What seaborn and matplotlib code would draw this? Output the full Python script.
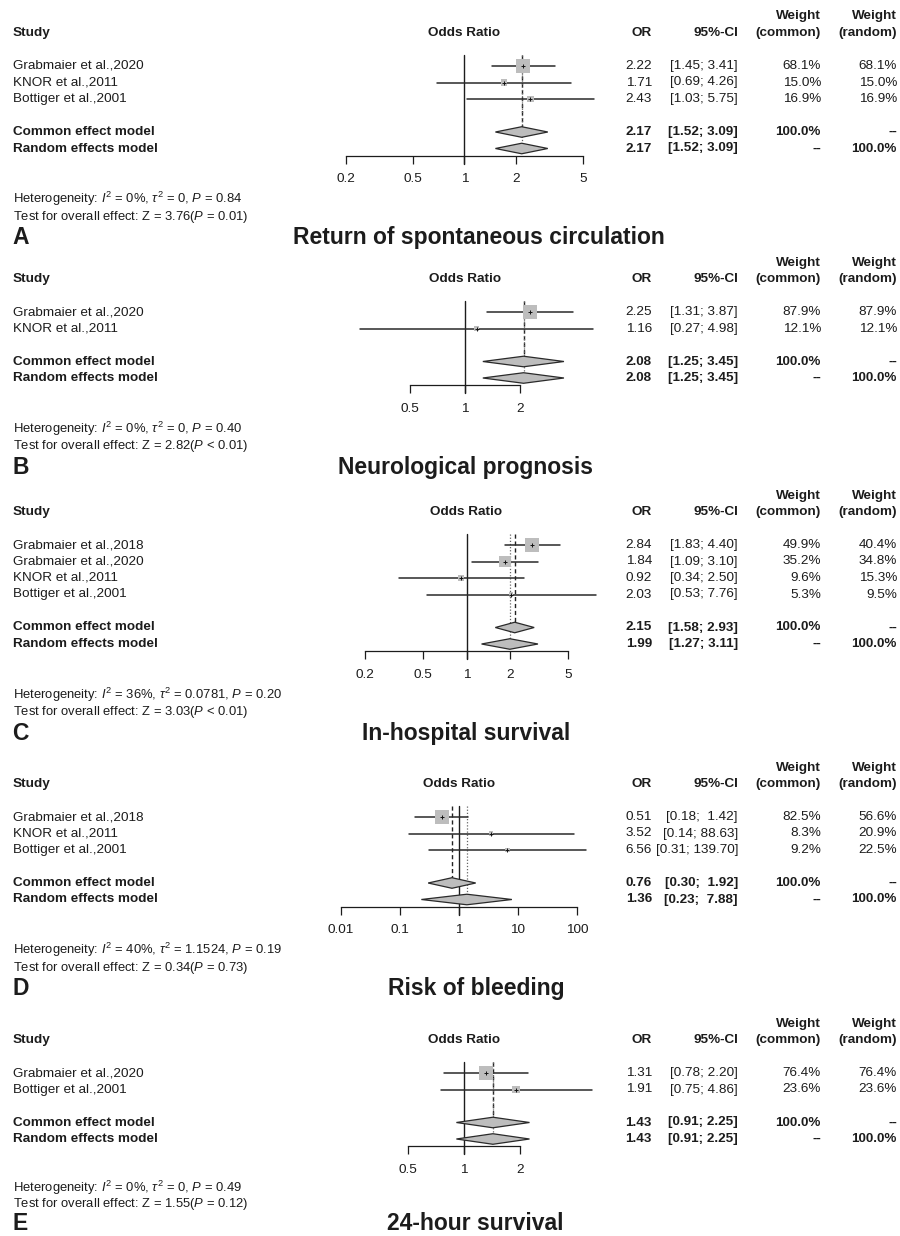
import numpy as np
import matplotlib
matplotlib.use("Agg")
import matplotlib.pyplot as plt
import matplotlib.transforms as mtransforms
from matplotlib.ticker import NullLocator
import seaborn as sns

# ---------------- data ----------------
# A: return of spontaneous circulation
roc_studies = ["Grabmaier et al.,2020", "KNOR et al.,2011", "Bottiger et al.,2001"]
roc_or = [2.22, 1.71, 2.43]
roc_lo = [1.45, 0.69, 1.03]
roc_hi = [3.41, 4.26, 5.75]
roc_w_common = [68.1, 15.0, 16.9]
roc_w_random = [68.1, 15.0, 16.9]
roc_common = [2.17, 1.52, 3.09]
roc_random = [2.17, 1.52, 3.09]
roc_het = ["0%", "0", "0.84", "3.76", "= 0.01"]

# B: neurological prognosis
neu_studies = ["Grabmaier et al.,2020", "KNOR et al.,2011"]
neu_or = [2.25, 1.16]
neu_lo = [1.31, 0.27]
neu_hi = [3.87, 4.98]
neu_w_common = [87.9, 12.1]
neu_w_random = [87.9, 12.1]
neu_common = [2.08, 1.25, 3.45]
neu_random = [2.08, 1.25, 3.45]
neu_het = ["0%", "0", "0.40", "2.82", "< 0.01"]

# C: in-hospital survival
hos_studies = ["Grabmaier et al.,2018", "Grabmaier et al.,2020", "KNOR et al.,2011", "Bottiger et al.,2001"]
hos_or = [2.84, 1.84, 0.92, 2.03]
hos_lo = [1.83, 1.09, 0.34, 0.53]
hos_hi = [4.40, 3.10, 2.50, 7.76]
hos_w_common = [49.9, 35.2, 9.6, 5.3]
hos_w_random = [40.4, 34.8, 15.3, 9.5]
hos_common = [2.15, 1.58, 2.93]
hos_random = [1.99, 1.27, 3.11]
hos_het = ["36%", "0.0781", "0.20", "3.03", "< 0.01"]

# D: risk of bleeding
ble_studies = ["Grabmaier et al.,2018", "KNOR et al.,2011", "Bottiger et al.,2001"]
ble_or = [0.51, 3.52, 6.56]
ble_lo = [0.18, 0.14, 0.31]
ble_hi = [1.42, 88.63, 139.70]
ble_w_common = [82.5, 8.3, 9.2]
ble_w_random = [56.6, 20.9, 22.5]
ble_common = [0.76, 0.30, 1.92]
ble_random = [1.36, 0.23, 7.88]
ble_het = ["40%", "1.1524", "0.19", "0.34", "= 0.73"]

# E: 24-hour survival
h24_studies = ["Grabmaier et al.,2020", "Bottiger et al.,2001"]
h24_or = [1.31, 1.91]
h24_lo = [0.78, 0.75]
h24_hi = [2.20, 4.86]
h24_w_common = [76.4, 23.6]
h24_w_random = [76.4, 23.6]
h24_common = [1.43, 0.91, 2.25]
h24_random = [1.43, 0.91, 2.25]
h24_het = ["0%", "0", "0.49", "1.55", "= 0.12"]

ticks_a = [0.2, 0.5, 1, 2, 5]
ticks_b = [0.5, 1, 2]
ticks_c = [0.2, 0.5, 1, 2, 5]
ticks_d = [0.01, 0.1, 1, 10, 100]
ticks_e = [0.5, 1, 2]

panel_letters = ["A", "B", "C", "D", "E"]
panel_titles = ["Return of spontaneous circulation", "Neurological prognosis",
                "In-hospital survival", "Risk of bleeding", "24-hour survival"]

# ---------------- style ----------------
sns.set_theme(style="white")
plt.rcParams["font.family"] = ["Liberation Sans", "DejaVu Sans"]
plt.rcParams["mathtext.fontset"] = "custom"
plt.rcParams["mathtext.rm"] = "Liberation Sans"
plt.rcParams["mathtext.it"] = "Liberation Sans:italic"
plt.rcParams["mathtext.bf"] = "Liberation Sans:bold"

W, H = 900, 1236
SP = 16.5          # row pitch in pixels
FS = 9.7           # table font size
FS_HET = 9.4
FS_TITLE = 16.5
INK = "#1c1c1c"
BOX = "#BDBDBD"
SMAX = 100.0       # marker area (pt^2) of the heaviest study

fig = plt.figure(figsize=(W / 100, H / 100), dpi=100)
fig.patch.set_facecolor("white")


def fx(px):
    return px / W


def fy(py):
    return 1 - py / H


def fmt_tick(v):
    return f"{v:g}"


def draw_panel(idx, studies, est, lo, hi, w_common, w_random, common, random_, het,
               ticks, first_px, cx, ppd, title_x):
    n = len(studies)
    rows = np.arange(n)
    r_common = n + 1
    r_random = n + 2
    y_axis = r_random + 0.45
    top_px = first_px - SP
    axis_px = first_px + y_axis * SP

    ax = fig.add_axes([fx(cx - 150), fy(axis_px), 300 / W, (axis_px - top_px) / H])
    ax.patch.set_visible(False)
    ax.set_xscale("log")
    half = 150.0 / ppd
    for side in ("left", "right", "top"):
        ax.spines[side].set_visible(False)
    ax.spines["bottom"].set_bounds(ticks[0], ticks[-1])
    ax.spines["bottom"].set_color(INK)
    ax.spines["bottom"].set_linewidth(0.9)
    ax.set_xticks(ticks)
    ax.set_xticklabels([fmt_tick(t) for t in ticks])
    ax.xaxis.set_minor_locator(NullLocator())
    ax.set_yticks([])
    ax.tick_params(axis="x", bottom=True, direction="out", length=5.5, width=0.9,
                   pad=7, labelsize=FS, colors=INK)
    ax.grid(False)

    # reference line of no effect
    ax.plot([1, 1], [-0.65, y_axis + 8 / SP], color=INK, lw=1.0, clip_on=False, zorder=1)
    # pooled estimate lines
    ax.plot([common[0]] * 2, [-0.65, r_common], color="#222222", lw=1.0,
            ls=(0, (3, 2)), zorder=1, clip_on=False)
    ax.plot([random_[0]] * 2, [-0.65, r_random], color="#666666", lw=0.9,
            ls=(0, (1, 1.5)), zorder=1, clip_on=False)

    # study confidence intervals
    for r, l, h in zip(rows, lo, hi):
        ax.plot([l, h], [r, r], color="#2a2a2a", lw=1.1, zorder=2, clip_on=False)

    # weighted study boxes
    sns.scatterplot(x=est, y=rows, size=w_common, sizes=(0, SMAX),
                    size_norm=(0, max(w_common)), marker="s", color=BOX,
                    edgecolor="none", linewidth=0, legend=False, ax=ax, zorder=3)
    ax.scatter(est, rows, marker="+", s=12, color="#111111", linewidths=0.7, zorder=4)

    # pooled diamonds
    for r, (e, l, h) in ((r_common, common), (r_random, random_)):
        ax.fill([l, e, h, e], [r, r - 0.32, r, r + 0.32], facecolor=BOX,
                edgecolor="#2a2a2a", lw=0.9, zorder=3, clip_on=False)

    ax.set_xlim(10 ** -half, 10 ** half)
    ax.set_ylim(y_axis, -1)
    ax.set_xlabel("")
    ax.set_ylabel("")

    tr = mtransforms.blended_transform_factory(fig.transFigure, ax.transData)
    kw = dict(transform=tr, va="center", fontsize=FS, color=INK)
    x_study, x_or, x_ci, x_wc, x_wr = fx(13), fx(652), fx(738), fx(821), fx(897)

    # header
    ax.text(x_study, -2, "Study", ha="left", fontweight="bold", **kw)
    ax.text(1, -2, "Odds Ratio", ha="center", va="center", fontsize=FS,
            fontweight="bold", color=INK)
    ax.text(x_or, -2, "OR", ha="right", fontweight="bold", **kw)
    ax.text(x_ci, -2, "95%-CI", ha="right", fontweight="bold", **kw)
    ax.text(x_wc, -3, "Weight", ha="right", fontweight="bold", **kw)
    ax.text(x_wc, -2, "(common)", ha="right", fontweight="bold", **kw)
    ax.text(x_wr, -3, "Weight", ha="right", fontweight="bold", **kw)
    ax.text(x_wr, -2, "(random)", ha="right", fontweight="bold", **kw)

    wid = 5 if max(hi) >= 10 else 4

    def ci(l, h):
        return f"[{l:.2f}; {h:{wid}.2f}]"

    for r, s, e, l, h, wc, wr in zip(rows, studies, est, lo, hi, w_common, w_random):
        ax.text(x_study, r, s, ha="left", **kw)
        ax.text(x_or, r, f"{e:.2f}", ha="right", **kw)
        ax.text(x_ci, r, ci(l, h), ha="right", **kw)
        ax.text(x_wc, r, f"{wc:.1f}%", ha="right", **kw)
        ax.text(x_wr, r, f"{wr:.1f}%", ha="right", **kw)

    for r, label, (e, l, h), wc, wr in (
            (r_common, "Common effect model", common, "100.0%", "--"),
            (r_random, "Random effects model", random_, "--", "100.0%")):
        ax.text(x_study, r, label, ha="left", fontweight="bold", **kw)
        ax.text(x_or, r, f"{e:.2f}", ha="right", fontweight="bold", **kw)
        ax.text(x_ci, r, ci(l, h), ha="right", fontweight="bold", **kw)
        ax.text(x_wc, r, wc, ha="right", fontweight="bold", **kw)
        ax.text(x_wr, r, wr, ha="right", fontweight="bold", **kw)

    # footer: statistics, panel letter and outcome title
    title_px = min(axis_px + 82, H - 12)
    lift = 0.75 * (axis_px + 82 - title_px)
    i2, tau2, phet, z, pz = het
    fig.text(fx(13), fy(axis_px + 43 - lift * 0.6),
             f"Heterogeneity: $I^2$ = {i2}, $\\tau^2$ = {tau2}, $P$ = {phet}",
             ha="left", va="center", fontsize=FS_HET, color=INK)
    fig.text(fx(13), fy(axis_px + 61 - lift),
             f"Test for overall effect: Z = {z}($P$ {pz})",
             ha="left", va="center", fontsize=FS_HET, color=INK)
    fig.text(fx(12), fy(title_px), panel_letters[idx], ha="left", va="center",
             fontsize=FS_TITLE, fontweight="bold", color=INK)
    fig.text(fx(title_x), fy(title_px), panel_titles[idx], ha="center",
             va="center", fontsize=FS_TITLE, fontweight="bold", color=INK)


draw_panel(0, roc_studies, roc_or, roc_lo, roc_hi, roc_w_common, roc_w_random,
           roc_common, roc_random, roc_het, ticks_a, 66, 464.5, 170, 479)
draw_panel(1, neu_studies, neu_or, neu_lo, neu_hi, neu_w_common, neu_w_random,
           neu_common, neu_random, neu_het, ticks_b, 312, 465, 184, 465)
draw_panel(2, hos_studies, hos_or, hos_lo, hos_hi, hos_w_common, hos_w_random,
           hos_common, hos_random, hos_het, ticks_c, 545, 466.5, 145, 466)
draw_panel(3, ble_studies, ble_or, ble_lo, ble_hi, ble_w_common, ble_w_random,
           ble_common, ble_random, ble_het, ticks_d, 817, 459, 59, 476)
draw_panel(4, h24_studies, h24_or, h24_lo, h24_hi, h24_w_common, h24_w_random,
           h24_common, h24_random, h24_het, ticks_e, 1073, 464, 186, 475)

fig.savefig("out.png", dpi=100, facecolor="white")
